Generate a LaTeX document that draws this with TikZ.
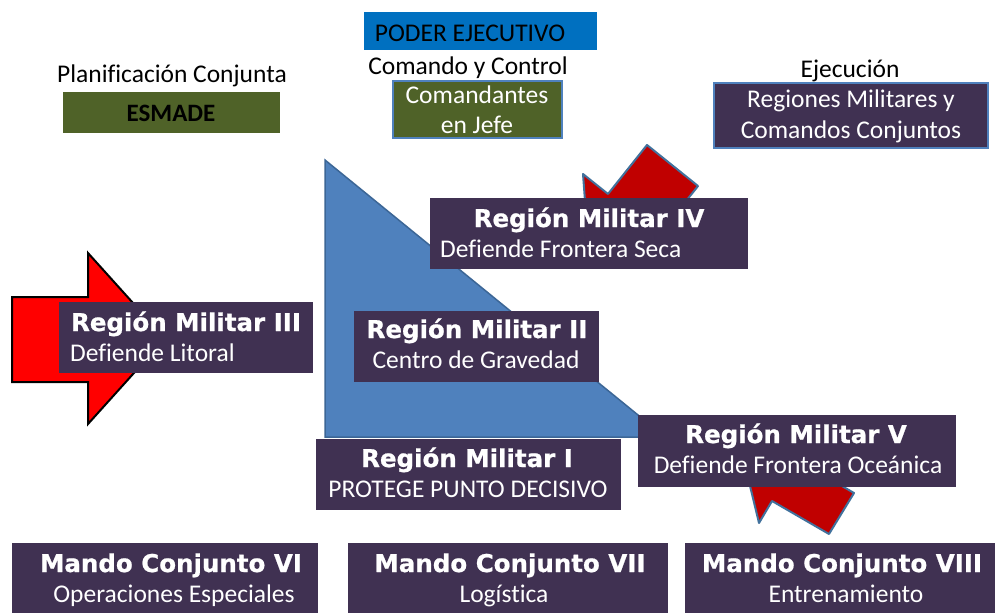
\documentclass[tikz,border=0pt]{standalone}
\usepackage{fontspec}
\setmainfont{Carlito}[Ligatures=CommonOff]
\newfontfamily\tf{DejaVu Sans}[BoldFeatures={FakeBold=0.8}]
\definecolor{rmpurple}{HTML}{403152}
\definecolor{olivebox}{HTML}{4F6228}
\definecolor{pblue}{HTML}{0070C0}
\definecolor{trifill}{HTML}{4F81BD}
\definecolor{triedge}{HTML}{3C6696}
\definecolor{dred}{HTML}{C00000}
\definecolor{edgeblue}{HTML}{41719C}
\definecolor{lightedge}{HTML}{4F81BD}
\begin{document}
\begin{tikzpicture}[x=1pt,y=-1pt,
  pbox/.style={fill=rmpurple, inner sep=0pt},
  ttl/.style={font=\tf\bfseries\fontsize{24.5}{28}\selectfont, text=white, anchor=base, inner sep=0pt},
  sub/.style={font=\fontsize{25.5}{30}\selectfont, text=white, anchor=base, inner sep=0pt},
  lbl/.style={font=\fontsize{25.5}{30}\selectfont, text=black, anchor=base, inner sep=0pt},
  redarrow/.style={fill=red, draw=black, line width=2pt, line join=miter},
  darrow/.style={fill=dred, draw=edgeblue, line width=2pt, line join=round}]
\useasboundingbox (0,0) rectangle (995,613);
\fill[white] (0,0) rectangle (995,613);

% blue triangle
\draw[fill=trifill, draw=triedge, line width=1.5pt] (325,160) -- (325,437) -- (665,437) -- cycle;

% block arrows
\draw[redarrow] (12,297) -- (88,297) -- (88,253) -- (165,338.5) -- (88,424) -- (88,382) -- (12,382) -- cycle;
\draw[darrow] (647,145) -- (608,194) -- (583,174) -- (590,268) -- (684,255) -- (659,235) -- (698,186) -- cycle;
\draw[darrow] (829,534) -- (772,501) -- (759,523) -- (743,457) -- (810,438) -- (797,460) -- (854,493) -- cycle;

% top boxes
\node[fill=pblue, minimum width=233pt, minimum height=38pt, inner sep=0pt] (pebox) at (480.5,31) {};
\node[fill=olivebox, minimum width=217pt, minimum height=41pt, inner sep=0pt] (esbox) at (171.5,112.5) {};
\node[fill=olivebox, draw=lightedge, line width=1.5pt, minimum width=169pt, minimum height=57pt, inner sep=0pt] (cjbox) at (477.5,109.5) {};
\node[fill=rmpurple, draw=lightedge, line width=2pt, minimum width=274pt, minimum height=65pt, inner sep=0pt] (rgbox) at (851,115.5) {};

% region / mando boxes
\node[pbox, minimum width=318pt, minimum height=71pt] (r4) at (589,233.5) {};
\node[pbox, minimum width=254pt, minimum height=71pt] (r3) at (186,337.5) {};
\node[pbox, minimum width=245pt, minimum height=71pt] (r2) at (476.5,346.5) {};
\node[pbox, minimum width=305pt, minimum height=71pt] (r1) at (468.5,474.5) {};
\node[pbox, minimum width=318pt, minimum height=72pt] (r5) at (797,451) {};
\node[pbox, minimum width=306pt, minimum height=70pt] (m6) at (165,578) {};
\node[pbox, minimum width=320pt, minimum height=70pt] (m7) at (508,578) {};
\node[pbox, minimum width=310pt, minimum height=70pt] (m8) at (840,578) {};

% top texts
\node[lbl] (pe) at (470,41) {PODER EJECUTIVO};
\node[lbl] (cc) at (468,74) {Comando y Control};
\node[lbl] (pc) at (172,82) {Planificación Conjunta};
\node[lbl, font=\bfseries\fontsize{25}{30}\selectfont] (es) at (171,121) {ESMADE};
\node[sub] (cj1) at (477,103) {Comandantes};
\node[sub] (cj2) at (477,133) {en Jefe};
\node[lbl] (ej) at (850,77) {Ejecución};
\node[sub] (rg1) at (851,107) {Regiones Militares y};
\node[sub] (rg2) at (851,138) {Comandos Conjuntos};

% region texts
\node[ttl] (r4t) at (589,227) {Región Militar IV};
\node[sub, anchor=base west] (r4s) at (440,257) {Defiende Frontera Seca};
\node[ttl] (r3t) at (186,331) {Región Militar III};
\node[sub, anchor=base west] (r3s) at (70,361) {Defiende Litoral};
\node[ttl] (r2t) at (477,338) {Región Militar II};
\node[sub] (r2s) at (476,368) {Centro de Gravedad};
\node[ttl] (r1t) at (467,467) {Región Militar I};
\node[sub] (r1s) at (468,497) {PROTEGE PUNTO DECISIVO};
\node[ttl] (r5t) at (796,443) {Región Militar V};
\node[sub] (r5s) at (798,473) {Defiende Frontera Oceánica};

% mando texts
\node[ttl] (m6t) at (171,572) {Mando Conjunto VI};
\node[sub] (m6s) at (174,602) {Operaciones Especiales};
\node[ttl] (m7t) at (510,572) {Mando Conjunto VII};
\node[sub] (m7s) at (504,602) {Logística};
\node[ttl] (m8t) at (842,572) {Mando Conjunto VIII};
\node[sub] (m8s) at (846,602) {Entrenamiento};
\end{tikzpicture}
\end{document}
